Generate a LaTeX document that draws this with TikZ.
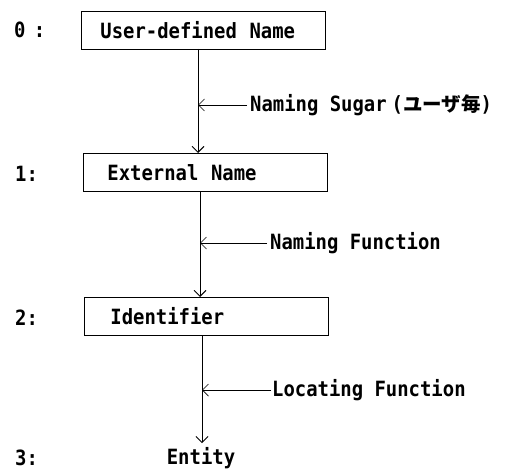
\documentclass[tikz,border=0pt]{standalone}
\usepackage{fontspec}
\usetikzlibrary{arrows.meta}
\newfontfamily\labfont[WordSpace={1,0,0},FakeStretch=0.9]{DejaVu Sans Mono}
\newfontfamily\cjk{Noto Sans CJK JP}
\begin{document}
\begin{tikzpicture}[x=1pt,y=1pt,
  every node/.style={font=\labfont\bfseries\fontsize{21}{24}\selectfont, inner sep=0pt},
  levelbox/.style={draw, line width=0.9pt, minimum height=38pt, text width=#1, align=left, anchor=north west},
  levelnum/.style={anchor=west},
  flow/.style={line width=0.9pt, -{Straight Barb[length=6pt,width=12pt,line width=0.9pt]}},
  side/.style={line width=0.7pt, -{Straight Barb[length=6pt,width=12pt,line width=0.7pt]}}]
\useasboundingbox (0,0) rectangle (526,-470);

% level numbers
\node[levelnum] (n0) at (14,-30) {0\hspace{-3pt} :};
\node[levelnum] (n1) at (15,-174) {1:};
\node[levelnum] (n2) at (15,-318) {2:};
\node[levelnum] (n3) at (15,-458) {3:};

% level boxes (align=left narrows the word space, so it is given explicitly)
\node[levelbox=206pt, inner xsep=19pt] (b0) at (81,-11) {User-defined\hspace{.6em}Name};
\node[levelbox=196pt, inner xsep=24pt] (b1) at (83,-153) {External\hspace{.6em}Name};
\node[levelbox=192pt, inner xsep=26pt] (b2) at (84,-297) {Identifier};
\node (ent) at (201,-458) {Entity};

% anchor points of the vertical connectors
\coordinate (v0) at (198,-49);
\coordinate (v1) at (200,-192);
\coordinate (v2) at (202,-335);

\draw[flow] (v0) -- (v0 |- b1.north);
\draw[flow] (v1) -- (v1 |- b2.north);
\draw[flow] (v2) -- ([yshift=4pt]v2 |- ent.north);

% side labels
\node[anchor=west] (s0) at (250,-105) {Naming Sugar\hspace{5pt}({\cjk\bfseries\fontsize{19.5}{22}\selectfont ユーザ毎})};
\node[anchor=west] (s1) at (270,-243) {Naming Function};
\node[anchor=west] (s2) at (272,-390) {Locating Function};

\draw[side] ([xshift=-3pt]s0.west) -- (s0.west -| v0);
\draw[side] ([xshift=-3pt]s1.west) -- (s1.west -| v1);
\draw[side] ([xshift=-1pt]s2.west) -- (s2.west -| v2);
\end{tikzpicture}
\end{document}
